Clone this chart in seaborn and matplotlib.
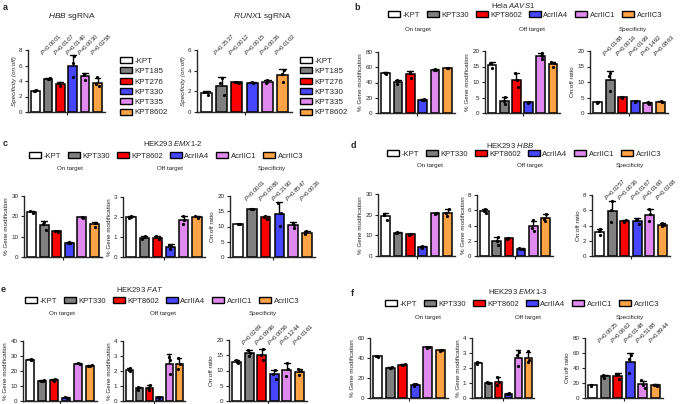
import numpy as np
import pandas as pd
import matplotlib
matplotlib.use("Agg")
import matplotlib.pyplot as plt
import seaborn as sns
from matplotlib.patches import Patch

sns.set_style("ticks")
plt.rcParams['font.family'] = ['Liberation Sans', 'DejaVu Sans']
plt.rcParams['mathtext.fontset'] = 'custom'
plt.rcParams['mathtext.rm'] = 'Liberation Sans'
plt.rcParams['mathtext.it'] = 'Liberation Sans:italic'
plt.rcParams['mathtext.bf'] = 'Liberation Sans:bold'
np.random.seed(7)

W, H = 685, 404
colors = ["#ffffff", "#808080", "#ff0000", "#4646ff", "#e08aef", "#ffa347"]

# groups
kpt_a = ["-KPT", "KPT185", "KPT276", "KPT330", "KPT335", "KPT8602"]
groups = ["-KPT", "KPT330", "KPT8602", "AcrIIA4", "AcrIIC1", "AcrIIC3"]

# panel a, specificity (on:off), replicates
a_hbb = [[2.7, 2.8, 2.75], [4.25, 4.35, 4.3], [3.3, 3.75, 3.8],
         [4.5, 6.3, 7.2], [4.1, 4.8, 4.9], [3.3, 3.6, 4.5]]
a_runx1 = [[1.6, 1.95, 1.95], [1.6, 2.8, 3.25], [2.85, 2.9, 2.95],
           [2.8, 2.85, 2.9], [2.8, 2.95, 3.1], [2.9, 3.7, 4.05]]
p_a_hbb = ["P<0.0001", "P=0.0107", "P=0.0140", "P=0.0030", "P=0.0258"]
p_a_runx1 = ["P=0.2537", "P=0.0012", "P=0.0015", "P=0.0026", "P=0.0102"]

# panel b, Hela AAVS1
b_on = [[51, 52.5, 53], [38, 41.5, 43.5], [46, 53, 54],
        [16.5, 17.5, 18.5], [56, 57, 58], [58.5, 59, 59.5]]
b_off = [[14.5, 16, 16], [2.8, 3.9, 5.3], [8.5, 10.8, 12.8],
         [3.2, 3.4, 3.6], [17.4, 18.3, 19.2], [15.0, 16.0, 16.4]]
b_spec = [[3.2, 3.4, 3.6], [7.2, 11.8, 12.8], [4.9, 5.1, 5.3],
          [3.6, 3.8, 4.0], [3.0, 3.2, 3.4], [3.5, 3.7, 3.9]]
p_b = ["P=0.0188", "P=0.0016", "P=0.0199", "P=0.1492", "P=0.0863"]

# panel c, HEK293 EMX1-2
c_on = [[21.5, 22, 22.5], [13.2, 16.2, 17.1], [12.4, 12.7, 13.0],
        [6.8, 7.0, 7.2], [19.3, 19.5, 19.7], [14.6, 16.5, 16.9]]
c_off = [[1.95, 2.0, 2.05], [0.88, 1.0, 1.03], [0.9, 0.98, 1.03],
         [0.4, 0.55, 0.62], [1.65, 1.85, 2.05], [1.93, 2.0, 2.07]]
c_spec = [[10.7, 10.8, 10.9], [15.6, 15.7, 15.8], [12.4, 13.0, 13.6],
          [10.3, 14.4, 17.8], [9.6, 10.6, 11.3], [7.6, 8.0, 8.4]]
p_c = ["P<0.0001", "P=0.0086", "P=0.2190", "P=0.8547", "P=0.0026"]

# panel d, HEK293 HBB
d_on = [[17.6, 19.8, 20.2], [11.1, 11.3, 11.5], [10.2, 10.5, 10.8],
        [4.0, 4.3, 4.6], [20.4, 20.7, 21.0], [19.5, 20.6, 22.9]]
d_off = [[5.6, 5.9, 6.2], [1.5, 2.0, 2.5], [2.2, 2.3, 2.4],
         [0.9, 0.95, 1.0], [3.3, 3.7, 4.7], [4.6, 4.9, 5.5]]
d_spec = [[2.8, 3.3, 3.5], [4.5, 6.0, 7.2], [4.5, 4.6, 4.7],
          [4.2, 4.7, 4.9], [4.6, 5.5, 6.1], [3.9, 4.1, 4.3]]
p_d = ["P=0.0257", "P=0.0036", "P=0.0167", "P=0.0160", "P=0.0268"]

# panel e, HEK293 FAT
e_on = [[27.2, 27.5, 27.8], [13.3, 13.5, 13.7], [13.6, 14.2, 14.8],
        [2.0, 2.2, 2.4], [24.5, 25.0, 25.5], [23.2, 23.5, 23.8]]
e_off = [[2.0, 2.1, 2.2], [0.75, 0.85, 0.95], [0.72, 0.88, 1.05],
         [0.2, 0.25, 0.3], [1.8, 2.75, 2.95], [2.15, 2.5, 2.85]]
e_spec = [[12.3, 12.8, 13.3], [14.8, 15.9, 16.7], [13.5, 15.2, 16.9],
          [7.3, 8.9, 10.2], [8.2, 10.4, 12.3], [8.6, 9.8, 10.4]]
p_e = ["P=0.0269", "P=0.0996", "P=0.0056", "P=0.1244", "P=0.0161"]

# panel f, HEK293 EMX1-3
f_on = [[41.5, 42, 42.5], [30.0, 30.5, 31.0], [33.0, 33.5, 34.0],
        [12.5, 13.7, 14.3], [50.5, 51, 51.5], [47.5, 48, 48.5]]
f_off = [[2.3, 2.35, 2.4], [0.97, 1.02, 1.07], [0.85, 1.05, 1.4],
         [0.25, 0.28, 0.31], [2.15, 2.85, 3.1], [2.4, 2.55, 3.15]]
f_spec = [[16.5, 17, 17.5], [26.5, 29.5, 31.0], [26.0, 31.5, 32.5],
          [34, 52, 58], [14, 18, 23.5], [15.8, 17.3, 17.9]]
p_f = ["P=0.0025", "P=0.0662", "P=0.0148", "P=0.5188", "P=0.8944"]

fig = plt.figure(figsize=(6.85, 4.04), dpi=100)


def add_ax(l, t, r, b):
    return fig.add_axes([l / W, 1 - b / H, (r - l) / W, (b - t) / H])


def fmt_p(p):
    return "$P$" + p[1:]


def bars(ax, names, reps, top, step, ylabel, pvals=None, italic=False):
    df = pd.DataFrame({"group": np.repeat(names, [len(r) for r in reps]),
                       "value": np.concatenate(reps)})
    sns.barplot(data=df, x="group", y="value", hue="group", order=names,
                hue_order=names, palette=colors, saturation=1, errorbar="sd",
                capsize=0.45, width=0.7, edgecolor="black", linewidth=1.1,
                err_kws={"color": "black", "linewidth": 1.0, "zorder": 0.5},
                legend=False, ax=ax)
    sns.stripplot(data=df, x="group", y="value", order=names, color="black",
                  size=2.3, jitter=0.15, zorder=3, ax=ax)
    ax.set_xlim(-0.6, 5.6)
    ax.set_ylim(0, top)
    ax.set_yticks(np.arange(0, top + step / 2, step))
    ax.set_xticks([2.5], [""])
    ax.set_xlabel("")
    ax.set_ylabel(ylabel, fontsize=4.5, labelpad=1.5,
                  fontstyle="italic" if italic else "normal")
    ax.spines[["top", "right"]].set_visible(False)
    for s in ["left", "bottom"]:
        ax.spines[s].set_linewidth(1.0)
    ax.tick_params(labelsize=4.5, length=2.5, width=0.8, pad=1.5)
    if pvals:
        for i, p in enumerate(pvals, start=1):
            ax.text(i - 0.3, top * 0.88, fmt_p(p), rotation=45,
                    rotation_mode="anchor", ha="left", va="bottom",
                    fontsize=4.3, clip_on=False)


def handles(names):
    return [Patch(facecolor=c, edgecolor="black", linewidth=1.0, label=n)
            for c, n in zip(colors, names)]


def ftext(x, y, s, **kw):
    fig.text(x / W, 1 - y / H, s, ha="center", va="center", **kw)


def row_panel(letter, lpos, title, tpos, legy, legx, suby, subx, boxes, data, tops, steps, pvals):
    ftext(lpos[0], lpos[1], letter, fontsize=6.5, fontweight="bold")
    ftext(tpos[0], tpos[1], title, fontsize=5.5)
    fig.legend(handles=handles(groups), loc="center",
               bbox_to_anchor=(legx / W, 1 - legy / H), ncol=6, frameon=False,
               fontsize=5.5, handlelength=1.6, handleheight=0.8,
               columnspacing=0.9, handletextpad=0.3, borderpad=0)
    for sx, s in zip(subx, ["On target", "Off target", "Specificity"]):
        ftext(sx, suby, s, fontsize=4.5)
    ylabs = ["% Gene modification", "% Gene modification", "On:off ratio"]
    for k in range(3):
        ax = add_ax(*boxes[k])
        bars(ax, groups, data[k], tops[k], steps[k], ylabs[k],
             pvals if k == 2 else None)


# panel a
ftext(5, 7, "a", fontsize=6.5, fontweight="bold")
ftext(72, 17, r"$\mathit{HBB}$ sgRNA", fontsize=6)
ftext(263, 17, r"$\mathit{RUNX1}$ sgRNA", fontsize=6)
ax = add_ax(28, 50, 105, 112)
bars(ax, kpt_a, a_hbb, 8, 2, "Specificity (on:off)", p_a_hbb, italic=True)
ax = add_ax(197, 50, 292, 112)
bars(ax, kpt_a, a_runx1, 6, 2, "Specificity (on:off)", p_a_runx1, italic=True)
for lx in [116, 296]:
    fig.legend(handles=handles(kpt_a), loc="upper left",
               bbox_to_anchor=(lx / W, 1 - 53 / H), ncol=1, frameon=False,
               fontsize=5.8, handlelength=1.5, handleheight=0.8,
               labelspacing=0.3, handletextpad=0.3, borderpad=0)

row_panel("b", (357, 7), r"Hela $\mathit{AAVS1}$", (513, 6), 15, 525, 29,
          [418, 532, 633],
          [(378, 52, 455, 113), (485, 51, 560, 113), (590, 51, 668, 113)],
          [b_on, b_off, b_spec], [80, 20, 20], [20, 5, 5], p_b)
row_panel("c", (5, 144), r"HEK293 $\mathit{EMX1}$-$\mathit{2}$", (173, 143), 156, 166, 169,
          [70, 170, 272],
          [(24, 196, 102, 257), (123, 197, 205, 257), (230, 196, 315, 257)],
          [c_on, c_off, c_spec], [30, 3, 20], [10, 1, 5], p_c)
row_panel("d", (353, 146), r"HEK293 $\mathit{HBB}$", (510, 145), 154, 524, 166,
          [430, 530, 630],
          [(378, 194, 455, 256), (477, 195, 553, 256), (592, 195, 670, 256)],
          [d_on, d_off, d_spec], [30, 8, 8], [10, 2, 2], p_d)
row_panel("e", (3, 290), r"HEK293 $\mathit{FAT}$", (140, 290), 301, 162, 313,
          [62, 163, 263],
          [(23, 341, 97, 401), (123, 341, 185, 401), (229, 340, 307, 401)],
          [e_on, e_off, e_spec], [40, 4, 20], [10, 1, 5], p_e)
row_panel("f", (352, 293), r"HEK293 $\mathit{EMX1}$-$\mathit{3}$", (518, 292), 304, 522, 317,
          [428, 528, 630],
          [(370, 338, 448, 398), (472, 338, 534, 398), (585, 338, 663, 398)],
          [f_on, f_off, f_spec], [60, 4, 80], [20, 1, 20], p_f)

fig.savefig("out.png", dpi=100)
